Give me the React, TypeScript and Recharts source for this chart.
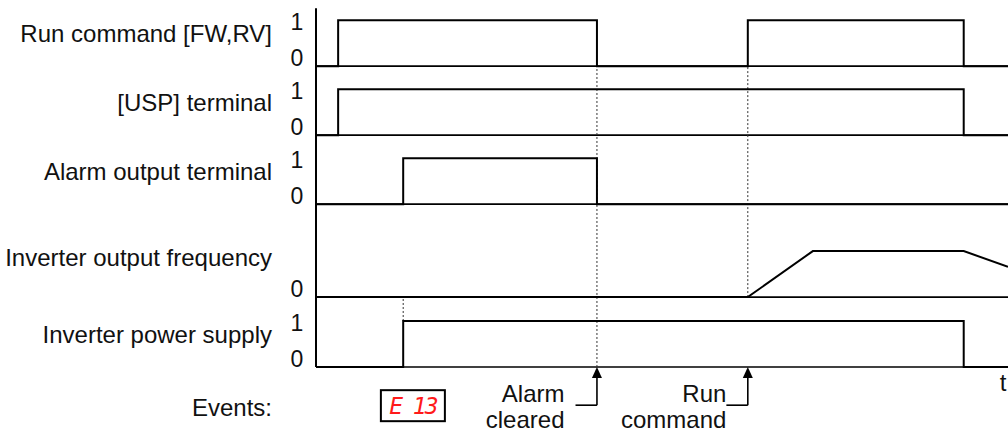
import React from "react";
import {
	LineChart,
	Line,
	XAxis,
	YAxis,
	ReferenceLine,
	ReferenceDot,
} from "recharts";

// time axis runs 0..100, signal rows stacked on one y scale (1 unit = one logic level)
const rowNames = [
	"Run command [FW,RV]",
	"[USP] terminal",
	"Alarm output terminal",
	"Inverter output frequency",
	"Inverter power supply",
];
const rowBase = [6.54, 5.04, 3.54, 1.52, 0];
const rowLabelAt = [7.26, 5.74, 4.24, 2.37, 0.7];
const rowHasOne = [true, true, true, false, true];

// [time, level]
const runCommand = [[0, 0], [3.2, 1], [40.6, 0], [62.4, 1], [93.6, 0], [100, 0]];
const uspTerminal = [[0, 0], [3.2, 1], [93.6, 0], [100, 0]];
const alarmOutput = [[0, 0], [12.6, 1], [40.6, 0], [100, 0]];
const outputFreq = [[0, 0], [62.4, 0], [71.8, 1], [93.6, 1], [100, 0.66]];
const powerSupply = [[0, 0], [12.6, 1], [93.6, 0], [100, 0]];

const guideTimes = [40.6, 62.4, 12.6];
const guideFrom = [0, 1.52, 1];
const guideTo = [6.54, 6.54, 1.52];

const eventTimes = [40.6, 62.4];
const eventLabels = [["Alarm", "cleared"], ["Run", "command"]];
const eventTextGap = [11, 0];
const eventLevel = -0.83;
const eventsLabelAt = -0.89;

const errorCode = "E 13";
const errorAt = 14.0;

const FONT = "'Liberation Sans', Arial, Helvetica, sans-serif";
const FS = 24;
const FS_NUM = 23;

const toRows = (pts: number[][], base: number) =>
	pts.map(([t, v]) => ({ t, v: v + base }));

type TickInfo = { value: number; text: string; kind: "num0" | "num1" | "row" };
const tickInfo: TickInfo[] = [];
rowNames.forEach((name, i) => {
	tickInfo.push({ value: rowBase[i], text: "0", kind: "num0" });
	if (rowHasOne[i]) tickInfo.push({ value: rowBase[i] + 1, text: "1", kind: "num1" });
	tickInfo.push({ value: rowLabelAt[i], text: name, kind: "row" });
});
tickInfo.push({ value: eventsLabelAt, text: "Events:", kind: "row" });
tickInfo.sort((a, b) => a.value - b.value);

const LeftTick = (props: any) => {
	const { x, y, payload } = props;
	const info = tickInfo.find((d) => Math.abs(d.value - payload.value) < 1e-6);
	if (!info) return null;
	if (info.kind === "row") {
		return (
			<text x={x - 44} y={y} textAnchor="end" dominantBaseline="central"
				fontFamily={FONT} fontSize={FS} fill="#111">
				{info.text}
			</text>
		);
	}
	const dy = info.kind === "num0" ? -8 : 2;
	return (
		<text x={x - 19} y={y + dy} textAnchor="middle" dominantBaseline="central"
			fontFamily={FONT} fontSize={FS_NUM} fill="#111">
			{info.text}
		</text>
	);
};

const ArrowHead = (props: any) => {
	const { cx, cy } = props;
	return <path d={`M${cx},${cy} L${cx - 5},${cy + 11} L${cx + 5},${cy + 11} Z`} fill="#000" />;
};

const eventText = (lines: string[], gap: number) => (props: any) => {
	const { cx, cy } = props;
	return (
		<g fontFamily={FONT} fontSize={FS} fill="#111" textAnchor="end">
			<text x={cx - gap} y={cy - 12} dominantBaseline="central">{lines[0]}</text>
			<text x={cx - gap} y={cy + 14} dominantBaseline="central">{lines[1]}</text>
		</g>
	);
};

const ErrorDisplay = (props: any) => {
	const { cx, cy } = props;
	return (
		<g>
			<rect x={cx - 32} y={cy - 15} width={64} height={31} fill="#fff" stroke="#000" strokeWidth={2} />
			<text x={cx} y={cy + 1} textAnchor="middle" dominantBaseline="central"
				fontFamily="'DejaVu Sans Mono', monospace" fontStyle="italic" fontSize={23}
				fill="#ff1a1a" letterSpacing={-2}>
				{errorCode}
			</text>
		</g>
	);
};

const TimeLabel = (props: any) => {
	const { cx, cy } = props;
	return (
		<text x={cx} y={cy} textAnchor="middle" dominantBaseline="central"
			fontFamily={FONT} fontSize={FS} fill="#111">
			t
		</text>
	);
};

const series = [
	{ pts: runCommand, type: "stepAfter" },
	{ pts: uspTerminal, type: "stepAfter" },
	{ pts: alarmOutput, type: "stepAfter" },
	{ pts: outputFreq, type: "linear" },
	{ pts: powerSupply, type: "stepAfter" },
];

export default function App() {
	const arrowLen = 3.1;
	return (
		<div style={{ position: "absolute", left: 0, top: 0, background: "#fff" }}>
			<LineChart width={1008} height={433} margin={{ top: 0, right: 0, bottom: 0, left: 0 }}>
				<XAxis dataKey="t" type="number" domain={[0, 100]} hide allowDataOverflow />
				<YAxis
					type="number"
					domain={[-1.4348, 7.9783]}
					allowDataOverflow
					width={316}
					ticks={tickInfo.map((d) => d.value)}
					interval={0}
					axisLine={false}
					tickLine={false}
					tickSize={0}
					tickMargin={0}
					tick={<LeftTick />}
				/>
				{/* vertical axis */}
				<ReferenceLine segment={[{ x: 0, y: 0 }, { x: 0, y: 7.8 }]} stroke="#000" strokeWidth={2} />
				{rowBase.map((b, i) => (
					<ReferenceLine key={`base-${i}`} y={b} stroke="#000" strokeWidth={1.6} />
				))}
				{guideTimes.map((t, i) => (
					<ReferenceLine key={`g-${i}`}
						segment={[{ x: t, y: guideFrom[i] }, { x: t, y: guideTo[i] }]}
						stroke="#333" strokeWidth={1} strokeDasharray="2 2" />
				))}
				{series.map((s, i) => (
					<Line
						key={`s-${i}`}
						data={toRows(s.pts, rowBase[i])}
						dataKey="v"
						type={s.type as any}
						stroke="#000"
						strokeWidth={2}
						dot={false}
						activeDot={false}
						isAnimationActive={false}
					/>
				))}
				{eventTimes.map((t, i) => (
					<ReferenceLine key={`eh-${i}`}
						segment={[{ x: t - arrowLen, y: eventLevel }, { x: t, y: eventLevel }]}
						stroke="#000" strokeWidth={1.6} />
				))}
				{eventTimes.map((t, i) => (
					<ReferenceLine key={`ev-${i}`}
						segment={[{ x: t, y: eventLevel }, { x: t, y: -0.15 }]}
						stroke="#000" strokeWidth={1.6} />
				))}
				{eventTimes.map((t, i) => (
					<ReferenceDot key={`ea-${i}`} x={t} y={0} shape={<ArrowHead />} />
				))}
				{eventTimes.map((t, i) => (
					<ReferenceDot key={`et-${i}`} x={t - arrowLen} y={eventLevel}
						shape={eventText(eventLabels[i], eventTextGap[i])} />
				))}
				<ReferenceDot x={errorAt} y={eventLevel} shape={<ErrorDisplay />} />
				<ReferenceDot x={99.3} y={-0.33} shape={<TimeLabel />} />
			</LineChart>
		</div>
	);
}
